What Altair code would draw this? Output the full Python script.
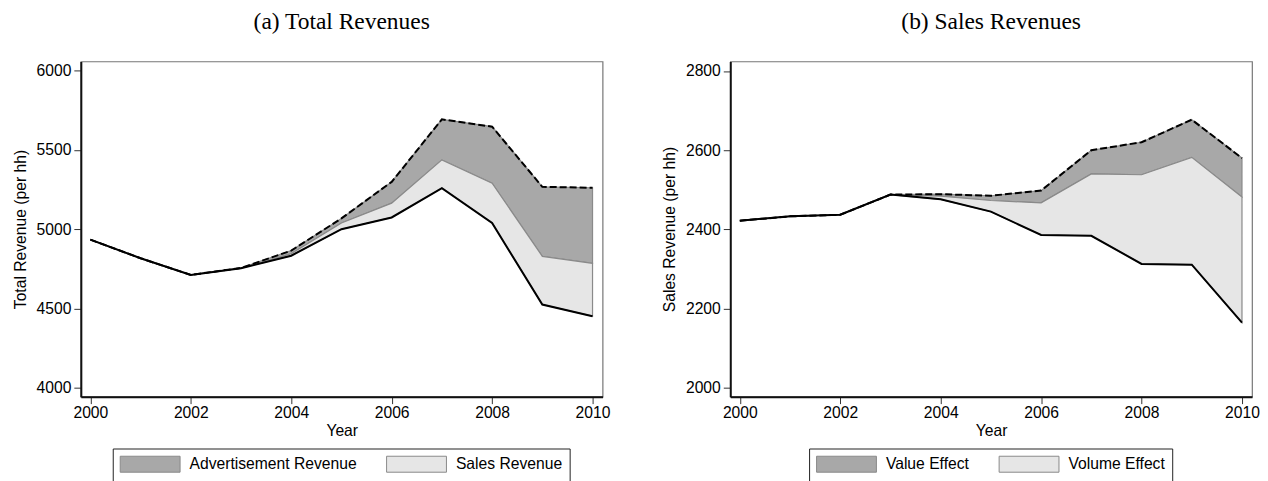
import altair as alt
import pandas as pd

years = list(range(2000, 2011))

# Panel (a) Total Revenues
a_sales = [4934, 4817, 4712, 4754, 4833, 5000, 5074, 5259, 5039, 4525, 4452]   # solid line
a_mid = [4934, 4817, 4712, 4754, 4845, 5039, 5164, 5437, 5290, 4829, 4785]     # boundary
a_total = [4934, 4817, 4712, 4756, 4865, 5068, 5298, 5692, 5646, 5267, 5261]   # dashed line
a_series = ["Advertisement Revenue", "Sales Revenue"]

# Panel (b) Sales Revenues
b_base = [2422, 2433, 2437, 2488, 2476, 2445, 2386, 2384, 2313, 2311, 2165]    # solid line
b_mid = [2422, 2433, 2437, 2488, 2484, 2473, 2467, 2540, 2538, 2582, 2482]     # boundary
b_total = [2422, 2433, 2437, 2488, 2489, 2485, 2498, 2600, 2620, 2677, 2580]   # dashed line
b_series = ["Value Effect", "Volume Effect"]

x_ticks = [2000, 2002, 2004, 2006, 2008, 2010]
a_yticks = [4000, 4500, 5000, 5500, 6000]
b_yticks = [2000, 2200, 2400, 2600, 2800]

FILL_DARK = "#a8a8a8"
FILL_LIGHT = "#e6e6e6"
OUTLINE = "#8a8a8a"
SANS = "Liberation Sans"
SERIF = "Liberation Serif"
FS = 15.7
# wide rectangular swatch (starts at the symbol's left edge)
RECT = "M-1,-1L6.5,-1L6.5,1L-1,1Z"


def panel(title, ytitle, series, base, mid, top, ydomain, yticks, legend_x):
    area_df = pd.DataFrame(
        {"year": years * 2,
         "series": [series[0]] * len(years) + [series[1]] * len(years),
         "lo": mid + base,
         "hi": top + mid}
    )
    line_df = pd.DataFrame({"year": years, "base": base, "top": top})

    x = alt.X("year:Q",
              scale=alt.Scale(domain=[1999.81, 2010.2], nice=False, zero=False),
              axis=alt.Axis(values=x_ticks, format="d", title="Year"))
    yscale = alt.Scale(domain=ydomain, nice=False, zero=False)

    areas = alt.Chart(area_df).mark_area(
        stroke=OUTLINE, strokeWidth=1.2, interpolate="linear", opacity=1
    ).encode(
        x=x,
        y=alt.Y("lo:Q", scale=yscale,
                axis=alt.Axis(values=yticks, format="d", title=ytitle, titlePadding=8)),
        y2="hi:Q",
        fill=alt.Fill("series:N",
                      scale=alt.Scale(domain=series, range=[FILL_DARK, FILL_LIGHT]),
                      legend=alt.Legend(
                          title=None, orient="none", direction="horizontal",
                          legendX=legend_x, legendY=388,
                          symbolType=RECT, symbolSize=256,
                          symbolStrokeColor=OUTLINE, symbolStrokeWidth=1,
                          symbolOpacity=1,
                          labelFont=SANS, labelFontSize=FS, labelColor="black",
                          labelLimit=400,
                          labelOffset=53, columnPadding=27, padding=7,
                          strokeColor="#222", cornerRadius=0)),
    )
    solid = alt.Chart(line_df).mark_line(color="black", strokeWidth=2).encode(
        x="year:Q", y=alt.Y("base:Q", scale=yscale))
    dashed = alt.Chart(line_df).mark_line(
        color="black", strokeWidth=2, strokeDash=[7, 3]).encode(
        x="year:Q", y=alt.Y("top:Q", scale=yscale))

    return alt.layer(areas, solid, dashed).properties(
        width=523, height=336,
        title=alt.TitleParams(title, font=SERIF, fontSize=23.5,
                              fontWeight="normal", color="black",
                              anchor="middle", offset=28),
    )


left = panel("(a) Total Revenues", "Total Revenue (per hh)", a_series,
             a_sales, a_mid, a_total, [3945, 6057], a_yticks, 32)
right = panel("(b) Sales Revenues", "Sales Revenue (per hh)", b_series,
              b_base, b_mid, b_total, [1978, 2824], b_yticks, 79)

chart = alt.hconcat(left, right, spacing=50).resolve_scale(
    x="independent", y="independent", fill="independent"
).properties(
    padding={"left": 3, "top": 0, "right": 0, "bottom": 0}
).configure_view(
    stroke="#777", strokeWidth=1.2
).configure_axis(
    labelFont=SANS, labelFontSize=FS, labelColor="black",
    titleFont=SANS, titleFontSize=FS, titleFontWeight="normal", titleColor="black",
    tickSize=7, tickColor="#333", tickWidth=1,
    domainColor="#111", domainWidth=2, grid=False, labelPadding=3,
).configure_axisX(
    labelPadding=2, titlePadding=3, labelFlush=False
).configure_axisY(
    labelAngle=0
)

chart.save("out.html", embed_options={"renderer": "svg", "actions": False})
